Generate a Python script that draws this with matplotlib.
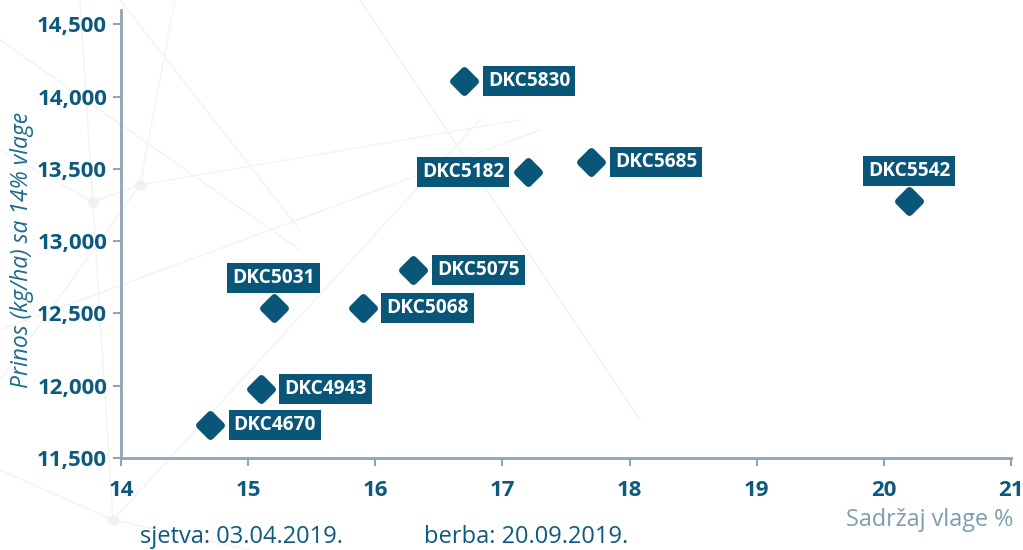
import matplotlib
matplotlib.use("Agg")
import matplotlib.pyplot as plt
from matplotlib.markers import MarkerStyle
from matplotlib.lines import Line2D

# ---- data ----
hybrids = ["DKC5830", "DKC5182", "DKC5685", "DKC5542", "DKC5075",
           "DKC5031", "DKC5068", "DKC4943", "DKC4670"]
moisture = [16.7, 17.2, 17.7, 20.2, 16.3, 15.2, 15.9, 15.1, 14.7]
yield_kg = [14110, 13480, 13550, 13280, 12800, 12540, 12540, 11980, 11730]
label_side = ["right", "left", "right", "top", "right", "top", "right", "right", "right"]
x_ticks = [14, 15, 16, 17, 18, 19, 20, 21]
y_ticks = [11500, 12000, 12500, 13000, 13500, 14000, 14500]

BLUE = "#0a5679"
TICK_TXT = "#0d5a7e"
SPINE = "#8fa5b3"
LIGHT = "#7f9db0"

plt.rcParams['font.family'] = ['Open Sans', 'DejaVu Sans']

fig = plt.figure(figsize=(10.23, 5.5), dpi=100)

# faint decorative network in background
W, H = 1023, 550
deco = [((0, 40), (300, 250)), ((120, 0), (300, 230)), ((140, 185), (175, 0)),
        ((140, 185), (0, 380)), ((93, 202), (140, 185)), ((93, 202), (0, 150)),
        ((140, 185), (520, 120)), ((360, 0), (640, 420)),
        ((0, 330), (540, 130)), ((113, 520), (0, 470)),
        ((113, 520), (250, 550)), ((113, 520), (480, 120)), ((80, 0), (113, 520))]
for (x0, y0), (x1, y1) in deco:
    fig.add_artist(Line2D([x0 / W, x1 / W], [1 - y0 / H, 1 - y1 / H],
                          transform=fig.transFigure, color="#f1f3f4", lw=1, zorder=0))
for (cx, cy) in [(140, 185), (93, 202), (113, 520)]:
    fig.add_artist(Line2D([cx / W], [1 - cy / H], transform=fig.transFigure,
                          marker="o", ms=7, color="#eef2f2", lw=0, zorder=0))

ax = fig.add_axes([121 / W, 1 - 458 / H, (1011 - 121) / W, (458 - 10) / H])
ax.patch.set_alpha(0)
ax.set_xlim(14, 21)
ax.set_ylim(11500, 14600)

mk = MarkerStyle("D", joinstyle="round")
ax.plot(moisture, yield_kg, linestyle="none", marker=mk, markersize=11.5,
        markerfacecolor=BLUE, markeredgecolor=BLUE, markeredgewidth=5, zorder=3)

for name, x, y, side in zip(hybrids, moisture, yield_kg, label_side):
    if side == "right":
        off, ha, va = (17, 0), "left", "center"
    elif side == "left":
        off, ha, va = (-17, 0), "right", "center"
    else:
        off, ha, va = (0, 14), "center", "bottom"
    ax.annotate(name, (x, y), xytext=off, textcoords="offset points",
                ha=ha, va=va, color="white", fontsize=13.8, fontweight="bold",
                bbox=dict(boxstyle="square,pad=0.26", fc=BLUE, ec="none"), zorder=4)

ax.set_xticks(x_ticks)
ax.set_yticks(y_ticks)
ax.set_yticklabels([f"{v:,}" for v in y_ticks])
ax.tick_params(axis="both", colors=SPINE, labelcolor=TICK_TXT, labelsize=16,
               length=6, width=1.5)
ax.tick_params(axis="x", pad=10)
ax.tick_params(axis="y", pad=4)
for lab in ax.get_xticklabels() + ax.get_yticklabels():
    lab.set_fontweight("bold")
for s in ["top", "right"]:
    ax.spines[s].set_visible(False)
for s in ["left", "bottom"]:
    ax.spines[s].set_color(SPINE)
    ax.spines[s].set_linewidth(2)

ax.set_ylabel("Prinos (kg/ha) sa 14% vlage", fontsize=16.5, style="italic",
              color="#1f6a8e")
ax.yaxis.set_label_coords(-0.098, 0.465)

fig.text(1013 / W, 1 - 520 / H, "Sadržaj vlage %", ha="right", va="center",
         fontsize=16.8, color=LIGHT)
fig.text(140 / W, 1 - 537 / H, "sjetva: 03.04.2019.", ha="left", va="center",
         fontsize=17, color=TICK_TXT)
fig.text(424 / W, 1 - 537 / H, "berba: 20.09.2019.", ha="left", va="center",
         fontsize=17, color=TICK_TXT)

fig.savefig("out.png", dpi=100)
